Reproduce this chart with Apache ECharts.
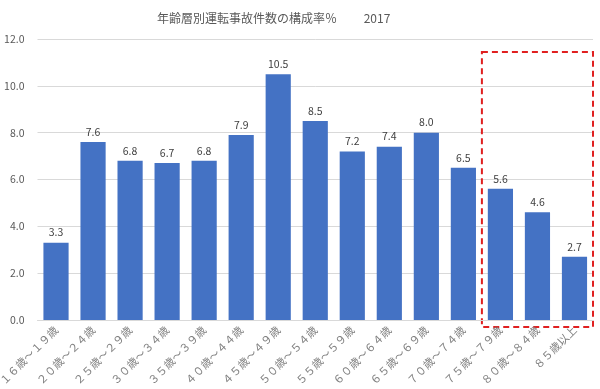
<!DOCTYPE html>
<html><head><meta charset="utf-8">
<script src="https://cdn.jsdelivr.net/npm/echarts@6/dist/echarts.min.js"></script>
<style>html,body{margin:0;padding:0;background:#fff}#c{width:600px;height:389px}</style>
</head><body><div id="c"></div>
<script>
var categories = ['１６歳～１９歳','２０歳～２４歳','２５歳～２９歳','３０歳～３４歳','３５歳～３９歳','４０歳～４４歳','４５歳～４９歳','５０歳～５４歳','５５歳～５９歳','６０歳～６４歳','６５歳～６９歳','７０歳～７４歳','７５歳～７９歳','８０歳～８４歳','８５歳以上'];
var values = [3.3, 7.6, 6.8, 6.7, 6.8, 7.9, 10.5, 8.5, 7.2, 7.4, 8.0, 6.5, 5.6, 4.6, 2.7];
var yTicks = [0, 2, 4, 6, 8, 10, 12];
var highlightFrom = 12;

var chart = echarts.init(document.getElementById('c'), null, {renderer:'canvas'});
var font = '"Noto Sans CJK JP", "Noto Sans", sans-serif';
chart.setOption({
  animation: false,
  backgroundColor: '#fff',
  title: {
    text: '年齢層別運転事故件数の構成率％　　 2017',
    left: 152, top: 7,
    textStyle: {fontFamily: font, fontSize: 12, fontWeight: 'normal', color: '#595959'}
  },
  grid: {left: 37.5, right: 7, top: 39, bottom: 69, containLabel: false, outerBoundsMode: 'none'},
  xAxis: {
    type: 'category', data: categories,
    axisLine: {lineStyle: {color: '#d9d9d9'}},
    axisTick: {show: false},
    axisLabel: {rotate: 45, interval: 0, fontFamily: font, fontSize: 11, color: '#7f7f7f', margin: 8}
  },
  yAxis: {
    type: 'value', min: yTicks[0], max: yTicks[yTicks.length-1], interval: 2,
    axisLine: {show: false}, axisTick: {show: false},
    splitLine: {lineStyle: {color: '#d9d9d9'}},
    axisLabel: {formatter: function(v){return v.toFixed(1);}, fontFamily: font, fontSize: 10.5, color: '#595959', margin: 13}
  },
  series: [{
    type: 'bar', data: values, barCategoryGap: '32%',
    itemStyle: {color: '#4472C4'},
    label: {show: true, position: 'top', formatter: function(p){return p.value.toFixed(1);}, fontFamily: font, fontSize: 10.5, color: '#404040', distance: 5}
  }]
});

var c0 = chart.convertToPixel({xAxisIndex:0}, 0);
var c1 = chart.convertToPixel({xAxisIndex:0}, 1);
var step = c1 - c0;
var x0 = chart.convertToPixel({xAxisIndex:0}, highlightFrom) - step/2;
var x1 = chart.convertToPixel({xAxisIndex:0}, categories.length - 1) + step/2;
var yTop = chart.convertToPixel({yAxisIndex:0}, 11.45);
var yBot = chart.convertToPixel({yAxisIndex:0}, 0) + 7;
chart.setOption({
  graphic: [{
    type: 'rect',
    shape: {x: x0, y: yTop, width: x1 - x0, height: yBot - yTop},
    style: {fill: 'none', stroke: '#E02020', lineWidth: 2, lineDash: [6, 4]}
  }]
});
</script></body></html>
